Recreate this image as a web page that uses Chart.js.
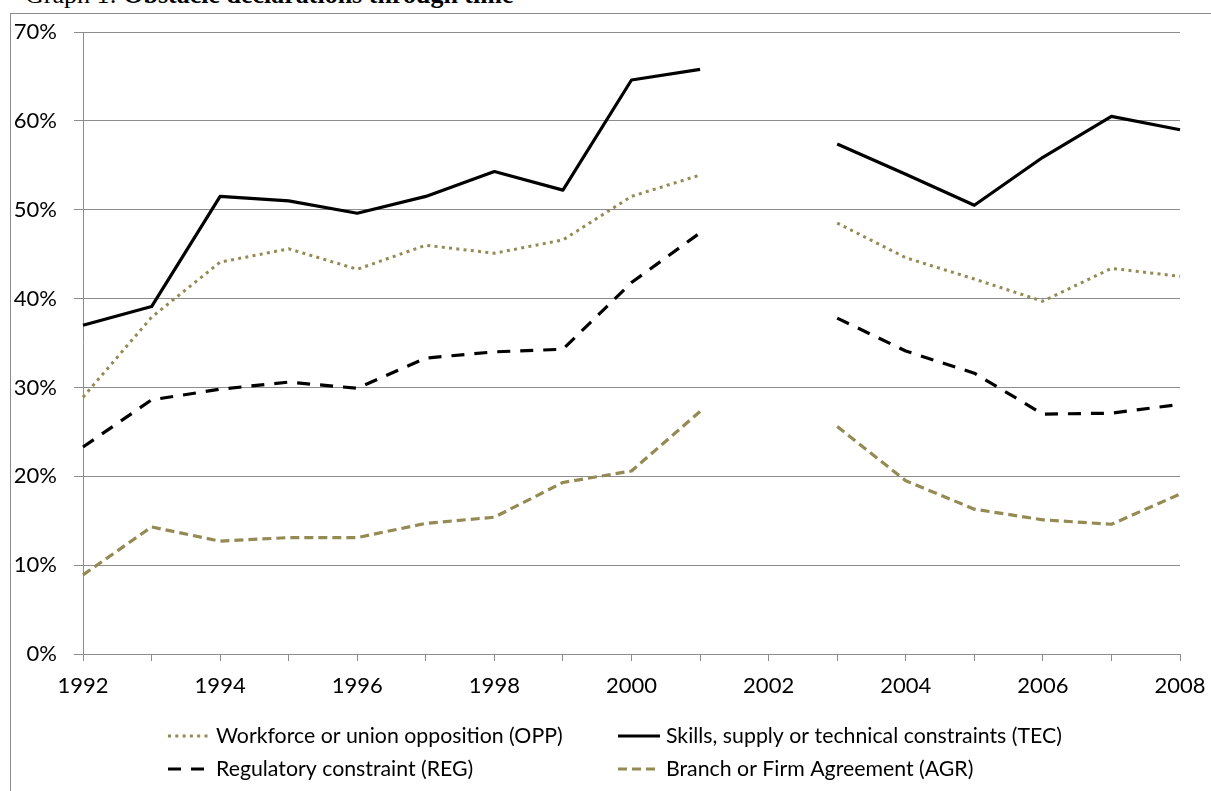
<!DOCTYPE html>
<html>
<head>
<meta charset="utf-8">
<script src="https://cdn.jsdelivr.net/npm/chart.js@4/dist/chart.umd.min.js"></script>
<style>
  html, body { margin: 0; padding: 0; background: #fff; overflow: hidden; }
  #wrap { position: relative; width: 1211px; height: 791px; overflow: hidden; }
  #frame { position: absolute; left: 10px; top: 13px; width: 1400px; height: 1000px; border: 1px solid #8c8c8c; }
  #title { position: absolute; left: 25px; top: -18px; font: 26px/26px "Liberation Serif", "Times New Roman", serif; color: #000; white-space: nowrap; }
  #graph { position: absolute; left: 0; top: 0; }
</style>
</head>
<body>
<div id="wrap">
  <div id="frame"></div>
  <div id="title">Graph 1: <b>Obstacle declarations through time</b></div>
  <canvas id="graph" width="1211" height="791"></canvas>
</div>
<script>
'use strict';

const years = ['1992','1993','1994','1995','1996','1997','1998','1999','2000',
               '2001','2002','2003','2004','2005','2006','2007','2008'];

// shares in %, no survey in 2002
const opp = [28.9, 37.9, 44.1, 45.6, 43.3, 46.0, 45.1, 46.6, 51.5, 53.9, null, 48.5, 44.6, 42.2, 39.7, 43.4, 42.5];
const tec = [37.0, 39.1, 51.5, 51.0, 49.6, 51.5, 54.3, 52.2, 64.6, 65.8, null, 57.4, 54.0, 50.5, 55.9, 60.5, 59.0];
const reg = [23.3, 28.6, 29.8, 30.6, 29.9, 33.3, 34.0, 34.3, 41.8, 47.4, null, 37.8, 34.1, 31.6, 27.0, 27.1, 28.1];
const agr = [8.9, 14.3, 12.7, 13.1, 13.1, 14.7, 15.4, 19.3, 20.6, 27.3, null, 25.6, 19.5, 16.3, 15.1, 14.6, 18.0];

const olive = '#948a54';
const gridGray = '#8c8c8c';
const tickFont = {family: 'Lato', size: 22};

// legend laid out in two aligned columns
const legendCols = [168, 618];
const legendRows = [736, 769];
const legendOrder = [0, 1, 2, 3];

const columnLegend = {
  id: 'columnLegend',
  afterDraw(chart){
    const ctx = chart.ctx;
    ctx.save();
    ctx.font = '21.3px Lato';
    ctx.textBaseline = 'middle';
    ctx.fillStyle = '#000';
    legendOrder.forEach((di, k)=>{
      const ds = chart.data.datasets[di];
      const x = legendCols[k % 2];
      const y = legendRows[Math.floor(k / 2)];
      ctx.strokeStyle = ds.borderColor;
      ctx.lineWidth = ds.borderWidth;
      ctx.setLineDash(ds.borderDash || []);
      ctx.beginPath();
      ctx.moveTo(x, y);
      ctx.lineTo(x + 42, y);
      ctx.stroke();
      ctx.fillText(ds.label, x + 48, y);
    });
    ctx.restore();
  }
};

function makePlot(){
  new Chart(document.querySelector('#graph'), {
    type: 'line',
    data: {
      labels: years,
      datasets: [
        {label: 'Workforce or union opposition (OPP)', data: opp, borderColor: olive,
         borderWidth: 3, borderDash: [3, 4.3]},
        {label: 'Skills, supply or technical constraints (TEC)', data: tec, borderColor: '#000',
         borderWidth: 3.2},
        {label: 'Regulatory constraint (REG)', data: reg, borderColor: '#000',
         borderWidth: 3.2, borderDash: [13, 10]},
        {label: 'Branch or Firm Agreement (AGR)', data: agr, borderColor: olive,
         borderWidth: 3.2, borderDash: [9, 5]}
      ]
    },
    options: {
      responsive: false,
      animation: false,
      devicePixelRatio: 1,
      spanGaps: false,
      elements: {
        point: {radius: 0},
        line: {tension: 0, fill: false, borderJoinStyle: 'round'}
      },
      layout: {padding: {top: 32, right: 31, left: 0, bottom: 0}},
      plugins: {legend: {display: false}, title: {display: false}, tooltip: {enabled: false}},
      scales: {
        x: {
          offset: false,
          grid: {drawOnChartArea: false, drawTicks: true, tickLength: 7, color: gridGray},
          border: {color: gridGray},
          ticks: {
            autoSkip: false, maxRotation: 0, padding: 12, color: '#000', font: tickFont,
            callback(val, i){ return i % 2 === 0 ? this.getLabelForValue(val) : ''; }
          },
          afterFit(scale){
            scale.height = 137;
            scale.paddingLeft = 0;
            scale.paddingRight = 0;
          }
        },
        y: {
          min: 0, max: 70,
          grid: {color: gridGray, tickLength: 9},
          border: {color: gridGray},
          ticks: {stepSize: 10, padding: 17, color: '#000', font: tickFont,
                  callback: (v)=>v + '%'},
          afterFit(scale){ scale.width = 83; }
        }
      }
    },
    plugins: [columnLegend]
  });
}

window.addEventListener('load', ()=>{
  document.fonts.load('22px Lato').then(makePlot, makePlot);
});
</script>
</body>
</html>
